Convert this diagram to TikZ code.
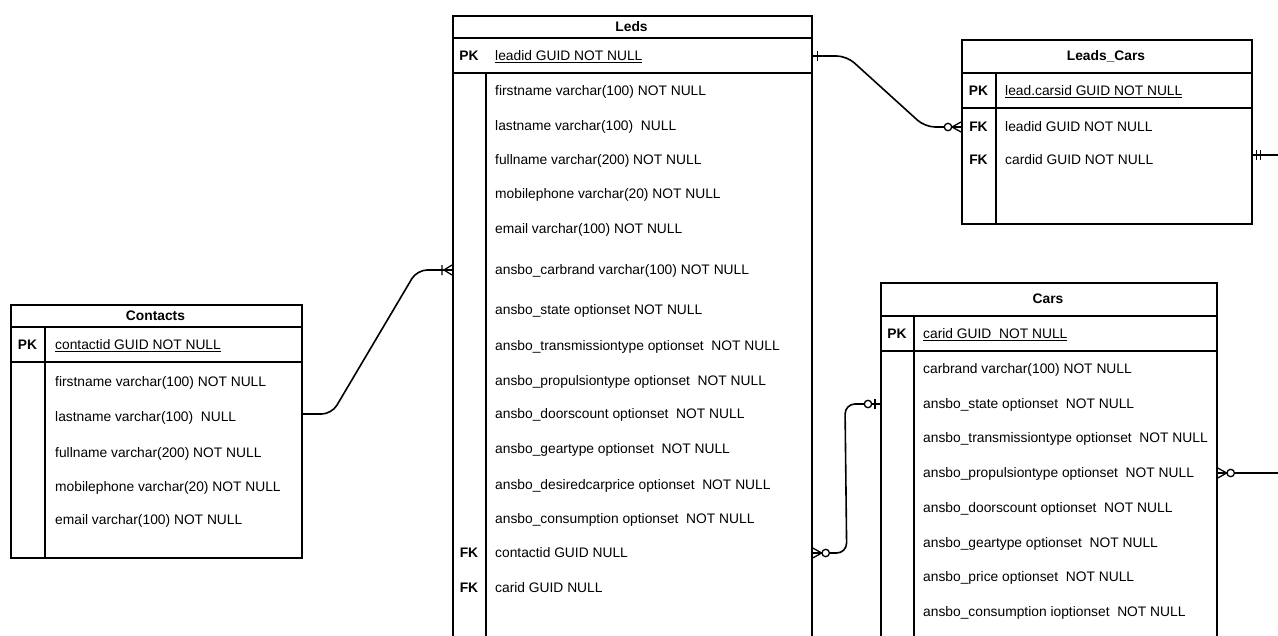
\documentclass[tikz,border=0pt]{standalone}
\usepackage{fontspec}
\setmainfont{Liberation Sans}
\usetikzlibrary{calc}

\tikzset{
  tbl/.style={draw,line width=1.7pt,anchor=north west,inner sep=0pt},
  grid/.style={line width=1.7pt},
  ttl/.style={inner sep=0pt,font=\fontsize{13.8}{16}\selectfont\bfseries},
  key/.style={inner sep=0pt,text height=10pt,text depth=1pt,font=\fontsize{13.8}{16}\selectfont\bfseries},
  fld/.style={anchor=west,inner sep=0pt,text height=10pt,text depth=1pt,font=\fontsize{13.8}{16}\selectfont},
  rel/.style={line width=1.6pt,rounded corners=10pt},
  mk/.style={line width=1.3pt},
  one/.pic={\draw[mk] (5,-5)--(5,5);},
  onlyone/.pic={\draw[mk] (4,-5)--(4,5) (8,-5)--(8,5);},
  zmany/.pic={\draw[mk] (0,-5)--(9,0)--(0,5); \draw[mk,fill=white] (13,0) circle (3.7pt);},
  onemany/.pic={\draw[mk] (0,-5)--(8,0)--(0,5) (10,-5)--(10,5);},
  zone/.pic={\draw[mk] (5,-5)--(5,5); \draw[mk,fill=white] (12,0) circle (3.7pt);}
}

\begin{document}
\begin{tikzpicture}[x=1pt,y=-1pt]
\fill[white] (0,0) rectangle (1278,635);
\clip (0,0) rectangle (1278,635);

% Leds
\node[tbl,minimum width=359pt,minimum height=650pt] (leds) at (452,15) {};
\draw[grid] (452,38) -- (811,38) (452,73) -- (811,73) (486,73) -- (486,665);
\node[ttl] (ledsT) at (631.5,27) {Leds};
\node[key] (ledsK) at (469,56) {PK};
\node[fld] (lpk) at (495,56) {\underline{leadid GUID NOT NULL}};
\node[fld] (lf1) at (495,91) {firstname varchar(100) NOT NULL};
\node[fld] (lf2) at (495,126) {lastname varchar(100)\ \ NULL};
\node[fld] (lf3) at (495,160) {fullname varchar(200) NOT NULL};
\node[fld] (lf4) at (495,194) {mobilephone varchar(20) NOT NULL};
\node[fld] (lf5) at (495,229) {email varchar(100) NOT NULL};
\node[fld] (lf6) at (495,270) {ansbo\_carbrand varchar(100) NOT NULL};
\node[fld] (lf7) at (495,310) {ansbo\_state optionset NOT NULL};
\node[fld] (lf8) at (495,346) {ansbo\_transmissiontype optionset\ \ NOT NULL};
\node[fld] (lf9) at (495,381) {ansbo\_propulsiontype optionset\ \ NOT NULL};
\node[fld] (lf10) at (495,414) {ansbo\_doorscount optionset\ \ NOT NULL};
\node[fld] (lf11) at (495,449) {ansbo\_geartype optionset\ \ NOT NULL};
\node[fld] (lf12) at (495,485) {ansbo\_desiredcarprice optionset\ \ NOT NULL};
\node[fld] (lf13) at (495,519) {ansbo\_consumption optionset\ \ NOT NULL};
\node[key] (lk1K) at (469,553) {FK};
\node[fld] (lk1) at (495,553) {contactid GUID NULL};
\node[key] (lk2K) at (469,588) {FK};
\node[fld] (lk2) at (495,588) {carid GUID NULL};

% Leads_Cars
\node[tbl,minimum width=290pt,minimum height=184pt] (lc) at (961,39) {};
\draw[grid] (961,73) -- (1251,73) (961,108) -- (1251,108) (996,73) -- (996,223);
\node[ttl] (lcT) at (1106,56) {Leads\_Cars};
\node[key] (lcK) at (978.5,91) {PK};
\node[fld] (lcpk) at (1005,91) {\underline{lead.carsid GUID NOT NULL}};
\node[key] (lcf1K) at (978.5,127) {FK};
\node[fld] (lcf1) at (1005,127) {leadid GUID NOT NULL};
\node[key] (lcf2K) at (978.5,160) {FK};
\node[fld] (lcf2) at (1005,160) {cardid GUID NOT NULL};

% Contacts
\node[tbl,minimum width=291pt,minimum height=253pt] (ct) at (10,304) {};
\draw[grid] (10,327) -- (301,327) (10,362) -- (301,362) (45,327) -- (45,557);
\node[ttl] (ctT) at (155.5,316) {Contacts};
\node[key] (ctK) at (27.5,345) {PK};
\node[fld] (cpk) at (55,345) {\underline{contactid GUID NOT NULL}};
\node[fld] (cf1) at (55,382) {firstname varchar(100) NOT NULL};
\node[fld] (cf2) at (55,417) {lastname varchar(100)\ \ NULL};
\node[fld] (cf3) at (55,453) {fullname varchar(200) NOT NULL};
\node[fld] (cf4) at (55,487) {mobilephone varchar(20) NOT NULL};
\node[fld] (cf5) at (55,520) {email varchar(100) NOT NULL};

% Cars
\node[tbl,minimum width=336pt,minimum height=380pt] (cars) at (880,282) {};
\draw[grid] (880,316) -- (1216,316) (880,351) -- (1216,351) (914,316) -- (914,662);
\node[ttl] (carsT) at (1048,299) {Cars};
\node[key] (carsK) at (897,334) {PK};
\node[fld] (rpk) at (923,334) {\underline{carid GUID\ \ NOT NULL}};
\node[fld] (rf1) at (923,369) {carbrand varchar(100) NOT NULL};
\node[fld] (rf2) at (923,404) {ansbo\_state optionset\ \ NOT NULL};
\node[fld] (rf3) at (923,438) {ansbo\_transmissiontype optionset\ \ NOT NULL};
\node[fld] (rf4) at (923,473) {ansbo\_propulsiontype optionset\ \ NOT NULL};
\node[fld] (rf5) at (923,508) {ansbo\_doorscount optionset\ \ NOT NULL};
\node[fld] (rf6) at (923,543) {ansbo\_geartype optionset\ \ NOT NULL};
\node[fld] (rf7) at (923,577) {ansbo\_price optionset\ \ NOT NULL};
\node[fld] (rf8) at (923,612) {ansbo\_consumption ioptionset\ \ NOT NULL};

% relations
\coordinate (out1) at (1278,155);
\coordinate (out2) at (1278,473);
\draw[rel] (leds.east |- lpk) -- ++(34,0) -- ($(lc.west |- lcf1)+(-36,0)$) -- (lc.west |- lcf1);
\draw[rel] (ct.east |- 0,414) -- ++(29,0) -- ($(leds.west |- lf6)+(-35,0)$) -- (leds.west |- lf6);
\draw[rel] (leds.east |- lk1) -- ++(34,0) -- ($(cars.west |- rf2)+(-35,0)$) -- (cars.west |- rf2);
\draw[rel] (lc.east |- out1) -- (out1);
\draw[rel] (cars.east |- out2) -- (out2);

\pic at (leds.east |- lpk) {one};
\pic[xscale=-1] at (lc.west |- lcf1) {zmany};
\pic at (lc.east |- out1) {onlyone};
\pic[xscale=-1] at (leds.west |- lf6) {onemany};
\pic at (leds.east |- lk1) {zmany};
\pic[xscale=-1] at (cars.west |- rf2) {zone};
\pic at (cars.east |- out2) {zmany};
\end{tikzpicture}
\end{document}
